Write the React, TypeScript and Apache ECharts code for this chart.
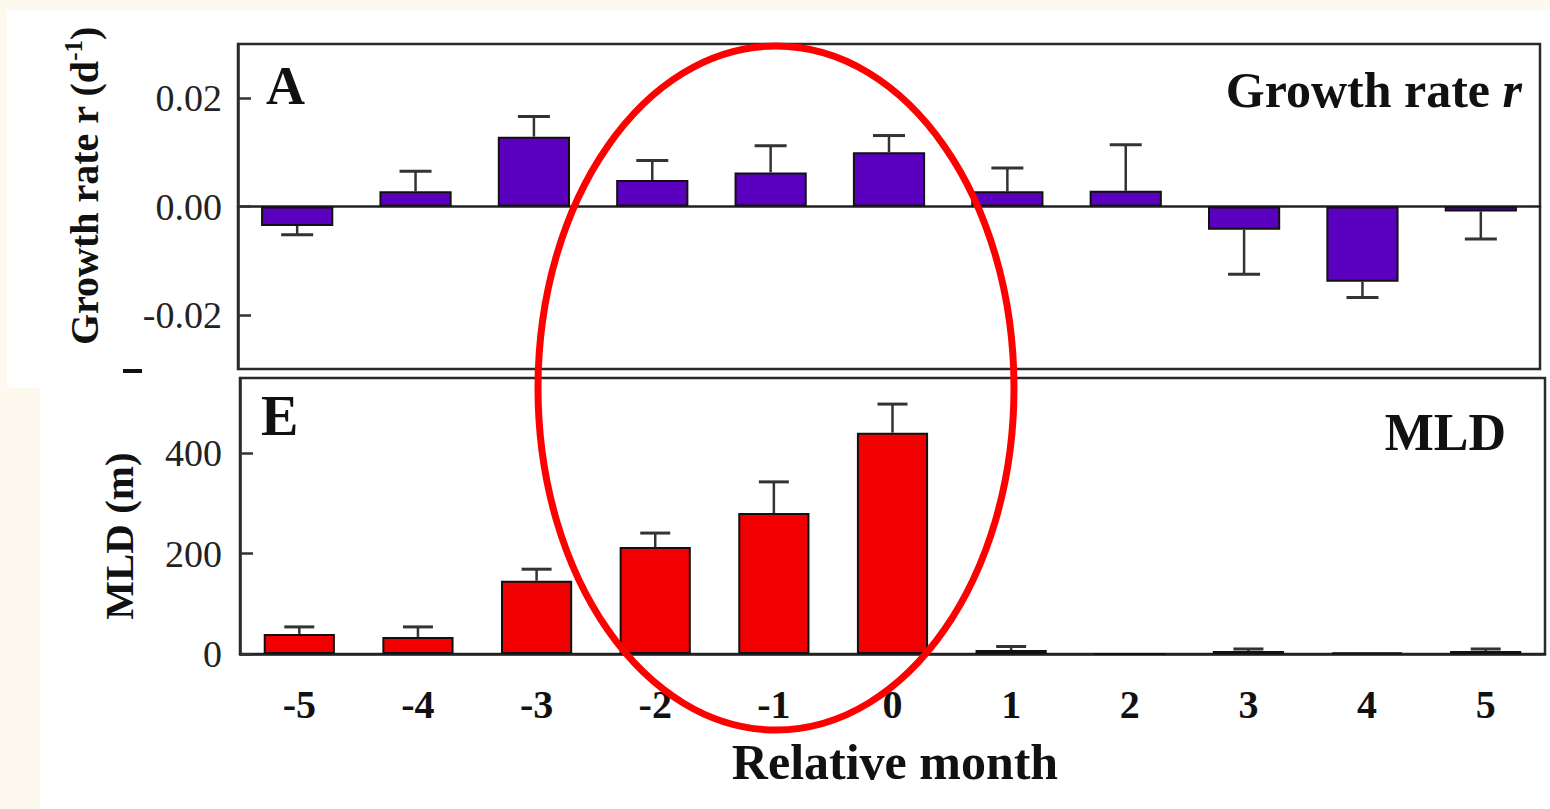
import React, { useEffect, useRef } from "react";
import * as echarts from "echarts";

const months = ["-5", "-4", "-3", "-2", "-1", "0", "1", "2", "3", "4", "5"];
const growthRate = [-0.0036, 0.0028, 0.0129, 0.0049, 0.0063, 0.01, 0.0028, 0.0029, -0.0043, -0.0139, -0.0009];
const growthErrEnd = [-0.0052, 0.0065, 0.0166, 0.0085, 0.0112, 0.0131, 0.0071, 0.0114, -0.0125, -0.0168, -0.006];
const mld = [40, 34, 146, 213, 281, 441, 8, 0, 6, 3, 6];
const mldErrEnd = [54, 54, 169, 241, 343, 498, 15, 0, 10, 3, 10];
const growthTicks = [-0.02, 0, 0.02];
const mldTicks = [0, 200, 400];

const SERIF = "'Liberation Serif', 'DejaVu Serif', serif";

function errorRender(capHalf: number) {
  return (params: any, api: any) => {
    const i = api.value(0);
    const v = api.value(1);
    const e = api.value(2);
    if (v === e) return { type: "group", children: [] };
    const p0 = api.coord([i, v]);
    const p1 = api.coord([i, e]);
    const st = { stroke: "#333", lineWidth: 2.5 };
    return {
      type: "group",
      children: [
        { type: "line", shape: { x1: p0[0], y1: p0[1], x2: p1[0], y2: p1[1] }, style: st },
        { type: "line", shape: { x1: p1[0] - capHalf, y1: p1[1], x2: p1[0] + capHalf, y2: p1[1] }, style: { ...st, lineWidth: 3 } },
      ],
    };
  };
}

function txt(x: number, y: number, text: string, size: number, align: string, extra: any = {}) {
  return {
    type: "text",
    x,
    y,
    z: 50,
    style: {
      text,
      fontFamily: SERIF,
      fontSize: size,
      fontWeight: "bold",
      fill: "#111",
      align,
      textAlign: align,
      verticalAlign: "middle",
      textVerticalAlign: "middle",
      ...extra,
    },
  };
}

export default function App() {
  const ref = useRef<HTMLDivElement>(null);
  useEffect(() => {
    const chart = echarts.init(ref.current!, null, { renderer: "svg" });
    const axisLabelStyle = { fontFamily: SERIF, fontSize: 38, color: "#222" };
    chart.setOption({
      animation: false,
      backgroundColor: "transparent",
      grid: [
        { left: 238, top: 44, width: 1302, height: 325, show: true, borderColor: "#2a2a2a", borderWidth: 2.5, backgroundColor: "transparent" },
        { left: 240, top: 378, width: 1305, height: 276, show: true, borderColor: "#2a2a2a", borderWidth: 2.5, backgroundColor: "transparent" },
      ],
      xAxis: [
        {
          type: "category",
          gridIndex: 0,
          data: months,
          axisLine: { onZero: true, lineStyle: { color: "#222", width: 2.5 } },
          axisTick: { show: false },
          axisLabel: { show: false },
        },
        {
          type: "category",
          gridIndex: 1,
          data: months,
          axisLine: { lineStyle: { color: "#222", width: 2.5 } },
          axisTick: { show: false },
          axisLabel: { fontFamily: SERIF, fontSize: 40, fontWeight: "bold", color: "#111", margin: 30 },
        },
      ],
      yAxis: [
        {
          type: "value",
          gridIndex: 0,
          min: -0.03,
          max: 0.03,
          splitLine: { show: false },
          axisLine: { show: true, lineStyle: { color: "#2a2a2a", width: 2.5 } },
          axisTick: { show: true, inside: true, length: 13, lineStyle: { color: "#333", width: 2.5 }, customValues: growthTicks },
          axisLabel: { ...axisLabelStyle, margin: 16, customValues: growthTicks, formatter: (v: number) => v.toFixed(2) },
        },
        {
          type: "value",
          gridIndex: 1,
          min: 0,
          max: 550,
          splitLine: { show: false },
          axisLine: { show: true, lineStyle: { color: "#2a2a2a", width: 2.5 } },
          axisTick: { show: true, inside: true, length: 13, lineStyle: { color: "#333", width: 2.5 }, customValues: mldTicks },
          axisLabel: { ...axisLabelStyle, margin: 18, customValues: mldTicks, formatter: (v: number) => String(v) },
        },
      ],
      series: [
        {
          type: "bar",
          xAxisIndex: 0,
          yAxisIndex: 0,
          data: growthRate,
          barWidth: "61%",
          itemStyle: { color: "#5c00c0", borderColor: "#111", borderWidth: 2 },
        },
        {
          type: "custom",
          xAxisIndex: 0,
          yAxisIndex: 0,
          data: months.map((_, i) => [i, growthRate[i], growthErrEnd[i]]),
          renderItem: errorRender(16),
          z: 3,
        },
        {
          type: "bar",
          xAxisIndex: 1,
          yAxisIndex: 1,
          data: mld,
          barWidth: "60%",
          itemStyle: { color: "#f00000", borderColor: "#111", borderWidth: 2 },
        },
        {
          type: "custom",
          xAxisIndex: 1,
          yAxisIndex: 1,
          data: months.map((_, i) => [i, mld[i], mldErrEnd[i]]),
          renderItem: errorRender(15),
          z: 3,
        },
      ],
      graphic: [
        txt(266, 86, "A", 54, "left"),
        {
          type: "text",
          x: 1522,
          y: 90,
          z: 50,
          style: {
            text: "Growth rate {i|r}",
            fontFamily: SERIF,
            fontSize: 50,
            fontWeight: "bold",
            fill: "#111",
            align: "right",
            textAlign: "right",
            verticalAlign: "middle",
            textVerticalAlign: "middle",
            rich: { i: { fontFamily: SERIF, fontSize: 50, fontWeight: "bold", fontStyle: "italic", fill: "#111" } },
          },
        },
        txt(261, 416, "E", 56, "left"),
        txt(1506, 432, "MLD", 52, "right"),
        {
          type: "text",
          x: 84,
          y: 186,
          rotation: Math.PI / 2,
          z: 50,
          style: {
            text: "Growth rate r (d{sup|-1})",
            fontFamily: SERIF,
            fontSize: 40,
            fontWeight: "bold",
            fill: "#111",
            align: "center",
            textAlign: "center",
            verticalAlign: "middle",
            textVerticalAlign: "middle",
            rich: {
              sup: { fontFamily: SERIF, fontSize: 25, fontWeight: "bold", fill: "#111", padding: [0, 0, 22, 0] },
            },
          },
        },
        {
          type: "text",
          x: 119,
          y: 536,
          rotation: Math.PI / 2,
          z: 50,
          style: {
            text: "MLD (m)",
            fontFamily: SERIF,
            fontSize: 41,
            fontWeight: "bold",
            fill: "#111",
            align: "center",
            textAlign: "center",
            verticalAlign: "middle",
            textVerticalAlign: "middle",
          },
        },
        txt(895, 762, "Relative month", 50, "center"),
        { type: "rect", z: 50, shape: { x: 123, y: 369, width: 19, height: 4 }, style: { fill: "#111" } },
        {
          type: "ellipse",
          z: 100,
          shape: { cx: 776, cy: 388, rx: 238, ry: 342 },
          style: { fill: "none", stroke: "#ff0000", lineWidth: 7 },
        },
      ],
    });
    return () => chart.dispose();
  }, []);
  return (
    <div style={{ position: "fixed", left: 0, top: 0, width: 1550, height: 809, background: "#fdf9ef", overflow: "hidden" }}>
      <div style={{ position: "absolute", left: 7, top: 10, width: 1543, height: 378, background: "#fff" }} />
      <div style={{ position: "absolute", left: 40, top: 388, width: 1510, height: 421, background: "#fff" }} />
      <div ref={ref} style={{ position: "absolute", left: 0, top: 0, width: 1550, height: 809 }} />
    </div>
  );
}
